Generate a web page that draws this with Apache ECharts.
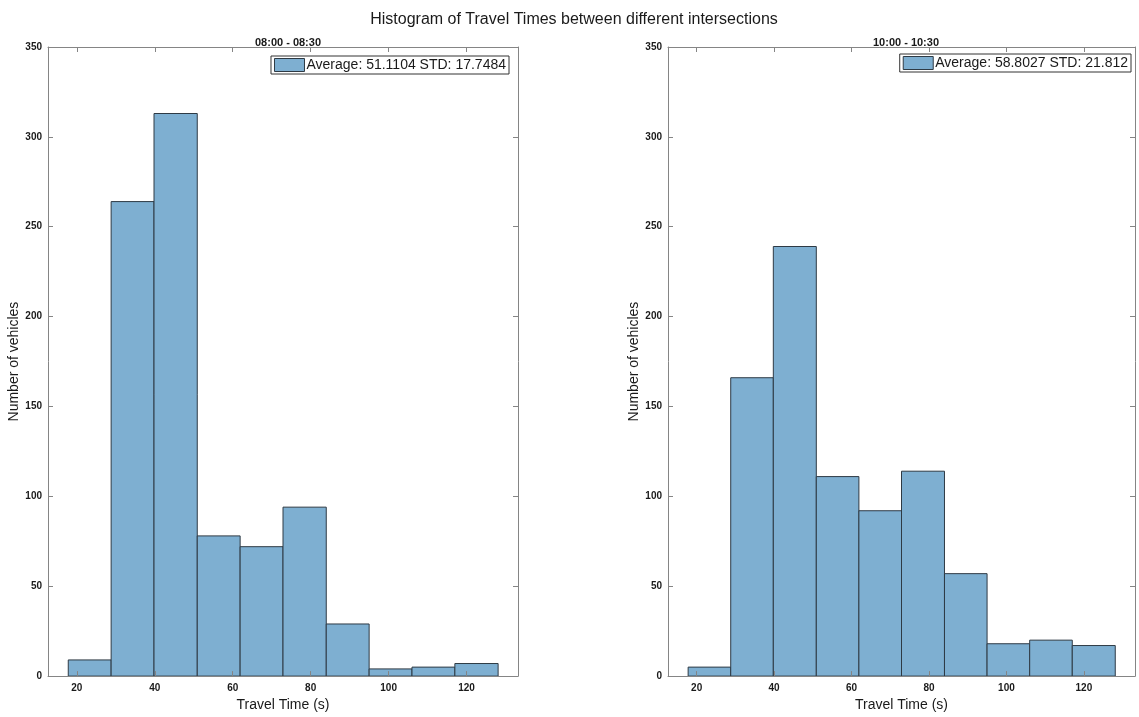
<!DOCTYPE html>
<html>
<head>
<meta charset="utf-8">
<script src="https://cdn.jsdelivr.net/npm/echarts@6/dist/echarts.min.js"></script>
<style>html,body{margin:0;padding:0;background:#fff;}#c{width:1139px;height:717px;}</style>
</head>
<body>
<div id="c"></div>
<script>
const binEdges = [17.8, 28.8, 39.8, 50.9, 61.9, 72.9, 84.0, 95.0, 106.0, 117.0, 128.1];
const countsMorning = [9, 264, 313, 78, 72, 94, 29, 4, 5, 7];
const countsLate = [5, 166, 239, 111, 92, 114, 57, 18, 20, 17];
const xTicks = [20, 40, 60, 80, 100, 120];
const panelTitles = ['08:00 - 08:30', '10:00 - 10:30'];
const legendNames = ['Average: 51.1104 STD: 17.7484', 'Average: 58.8027 STD: 21.812'];

const FONT = '"Liberation Sans", Arial, Helvetica, sans-serif';
const AXIS_COLOR = '#858585';
const FILL = '#7eafd1';
const EDGE = '#2e3a44';

function binData(counts) {
  return counts.map((c, i) => [binEdges[i], binEdges[i + 1], c]);
}

function renderItem(params, api) {
  const p0 = api.coord([api.value(0), api.value(2)]);
  const p1 = api.coord([api.value(1), 0]);
  return {
    type: 'rect',
    shape: { x: p0[0], y: p0[1], width: p1[0] - p0[0], height: p1[1] - p0[1] },
    style: { fill: FILL, stroke: EDGE, lineWidth: 1 }
  };
}

const grids = [
  { left: 48, top: 47, width: 470, height: 633 },
  { left: 668, top: 47, width: 467, height: 633 }
];

const xAxes = [], yAxes = [];
[0, 1].forEach(g => {
  xAxes.push({
    type: 'value', gridIndex: g, min: 12.6, max: 133.2, position: 'bottom', z: 10,
    name: 'Travel Time (s)', nameLocation: 'middle', nameGap: 19,
    nameTextStyle: { fontFamily: FONT, fontSize: 14, color: '#1a1a1a' },
    axisLine: { show: true, onZero: false, lineStyle: { color: AXIS_COLOR, width: 1 } },
    axisTick: { show: true, inside: true, length: 5, customValues: xTicks, lineStyle: { color: AXIS_COLOR } },
    axisLabel: { show: true, customValues: xTicks, margin: 7, fontFamily: FONT, fontSize: 10, fontWeight: 'bold', color: '#1a1a1a' },
    splitLine: { show: false }
  });
  xAxes.push({
    type: 'value', gridIndex: g, min: 12.6, max: 133.2, position: 'top', z: 10,
    axisLine: { show: true, onZero: false, lineStyle: { color: AXIS_COLOR, width: 1 } },
    axisTick: { show: true, inside: true, length: 5, customValues: xTicks, lineStyle: { color: AXIS_COLOR } },
    axisLabel: { show: false },
    splitLine: { show: false }
  });
  yAxes.push({
    type: 'value', gridIndex: g, min: 0, max: 350, interval: 50, position: 'left', z: 10,
    name: 'Number of vehicles', nameLocation: 'middle', nameGap: 22,
    nameTextStyle: { fontFamily: FONT, fontSize: 14, color: '#1a1a1a' },
    axisLine: { show: true, onZero: false, lineStyle: { color: AXIS_COLOR, width: 1 } },
    axisTick: { show: true, inside: true, length: 5, lineStyle: { color: AXIS_COLOR } },
    axisLabel: { show: true, margin: 6, fontFamily: FONT, fontSize: 10, fontWeight: 'bold', color: '#1a1a1a' },
    splitLine: { show: false }
  });
  yAxes.push({
    type: 'value', gridIndex: g, min: 0, max: 350, interval: 50, position: 'right', z: 10,
    axisLine: { show: true, onZero: false, lineStyle: { color: AXIS_COLOR, width: 1 } },
    axisTick: { show: true, inside: true, length: 5, lineStyle: { color: AXIS_COLOR } },
    axisLabel: { show: false },
    splitLine: { show: false }
  });
});

const legendBase = {
  orient: 'horizontal', icon: 'rect', itemWidth: 30, itemHeight: 13,
  borderColor: '#333', borderWidth: 1, padding: [2, 3, 2, 3],
  backgroundColor: '#fff', selectedMode: false,
  itemStyle: { color: FILL, borderColor: EDGE, borderWidth: 1 },
  textStyle: { fontFamily: FONT, fontSize: 14, color: '#1a1a1a', padding: [0, 0, 0, -3] }
};

const option = {
  backgroundColor: '#fff',
  animation: false,
  title: [
    { text: 'Histogram of Travel Times between different intersections', left: 569, top: 7, textAlign: 'center',
      textStyle: { fontFamily: FONT, fontSize: 16, fontWeight: 'normal', color: '#1a1a1a' } },
    { text: panelTitles[0], left: 283, top: 32, textAlign: 'center',
      textStyle: { fontFamily: FONT, fontSize: 11, fontWeight: 'bold', color: '#1a1a1a' } },
    { text: panelTitles[1], left: 901, top: 32, textAlign: 'center',
      textStyle: { fontFamily: FONT, fontSize: 11, fontWeight: 'bold', color: '#1a1a1a' } }
  ],
  legend: [
    Object.assign({}, legendBase, { data: [legendNames[0]], right: 630, top: 56 }),
    Object.assign({}, legendBase, { data: [legendNames[1]], right: 8, top: 54 })
  ],
  grid: grids,
  xAxis: xAxes,
  yAxis: yAxes,
  series: [
    { name: legendNames[0], type: 'custom', xAxisIndex: 0, yAxisIndex: 0, renderItem: renderItem, z: 2,
      encode: { x: [0, 1], y: 2 }, data: binData(countsMorning),
      itemStyle: { color: FILL, borderColor: EDGE, borderWidth: 1 }, clip: true },
    { name: legendNames[1], type: 'custom', xAxisIndex: 2, yAxisIndex: 2, renderItem: renderItem, z: 2,
      encode: { x: [0, 1], y: 2 }, data: binData(countsLate),
      itemStyle: { color: FILL, borderColor: EDGE, borderWidth: 1 }, clip: true }
  ]
};

const chart = echarts.init(document.getElementById('c'), null, { renderer: 'canvas' });
chart.setOption(option);
</script>
</body>
</html>
